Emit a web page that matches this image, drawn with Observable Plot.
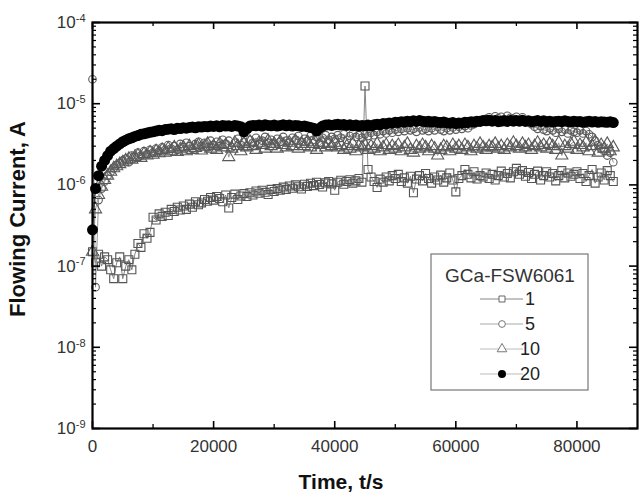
<!DOCTYPE html>
<html><head><meta charset="utf-8">
<script src="https://cdn.jsdelivr.net/npm/d3@7"></script>
<script src="https://cdn.jsdelivr.net/npm/@observablehq/plot@0.6"></script>
<style>body{margin:0;background:#fff}</style>
</head><body><div id="chart"></div>
<script>
// time in kiloseconds (x1000 s)
const timesKs = [0,0.5,1,1.5,2,2.5,3,3.5,4,4.5,
5,5.5,6,6.5,7,7.5,8,8.5,9,9.5,
10,10.5,11,11.5,12,12.5,13,13.5,14,14.5,
15,15.5,16,16.5,17,17.5,18,18.5,19,19.5,
20,20.5,21,21.5,22,22.5,23,23.5,24,24.5,
25,25.5,26,26.5,27,27.5,28,28.5,29,29.5,
30,30.5,31,31.5,32,32.5,33,33.5,34,34.5,
35,35.5,36,36.5,37,37.5,38,38.5,39,39.5,
40,40.5,41,41.5,42,42.5,43,43.5,44,44.5,
45,45.5,46,46.5,47,47.5,48,48.5,49,49.5,
50,50.5,51,51.5,52,52.5,53,53.5,54,54.5,
55,55.5,56,56.5,57,57.5,58,58.5,59,59.5,
60,60.5,61,61.5,62,62.5,63,63.5,64,64.5,
65,65.5,66,66.5,67,67.5,68,68.5,69,69.5,
70,70.5,71,71.5,72,72.5,73,73.5,74,74.5,
75,75.5,76,76.5,77,77.5,78,78.5,79,79.5,
80,80.5,81,81.5,82,82.5,83,83.5,84,84.5,
85,85.5,86];

// flowing current in microamperes (x1e-6 A)
const s1 = [0.15,0.11,0.14,0.10,0.13,0.12,0.09,0.07,0.11,0.13,
0.07,0.10,0.12,0.09,0.14,0.19,0.17,0.25,0.22,0.26,
0.40,0.37,0.44,0.41,0.46,0.42,0.50,0.47,0.53,0.49,
0.55,0.50,0.58,0.53,0.62,0.57,0.60,0.66,0.63,0.70,
0.65,0.72,0.68,0.62,0.75,0.52,0.70,0.77,0.66,0.73,
0.78,0.72,0.80,0.75,0.84,0.79,0.86,0.81,0.76,0.88,
0.83,0.90,0.86,0.94,0.88,0.97,0.91,1.00,0.95,0.89,
1.02,0.96,1.05,0.98,1.08,1.01,0.94,1.06,1.10,1.03,
0.86,1.08,1.14,1.02,1.10,1.16,1.05,1.12,1.20,1.08,
16.5,1.55,1.25,1.10,0.93,1.18,1.08,1.25,1.12,1.30,
1.20,1.35,1.10,1.22,1.05,1.28,0.80,1.18,1.30,1.12,
1.38,1.20,1.05,1.25,1.15,1.32,1.08,1.22,1.40,1.15,
0.82,1.20,1.30,1.55,1.35,1.22,1.45,1.18,1.30,1.25,
1.40,1.20,1.35,1.15,1.30,1.48,1.25,1.38,1.22,1.45,
1.60,1.35,1.50,1.28,1.42,1.20,1.35,1.48,1.15,1.30,
1.45,1.25,1.38,1.12,1.30,1.50,1.22,1.40,1.28,1.35,
1.45,1.20,1.38,1.10,1.30,1.55,1.05,1.25,1.40,1.15,
1.50,1.30,1.10];

const s5 = [20,0.055,0.65,0.9,1.1,1.3,1.45,1.6,1.75,1.85,
2.0,2.1,1.9,2.3,2.2,2.5,2.3,2.6,2.4,2.7,
2.5,2.8,2.6,2.9,2.7,3.1,2.8,3.0,2.7,3.2,
2.9,3.3,3.0,2.8,3.2,3.4,3.0,3.3,2.9,3.5,
3.1,3.4,3.0,3.6,3.2,3.5,2.9,3.3,3.7,3.1,
3.4,3.0,3.6,3.3,3.8,3.2,3.5,3.9,3.3,3.6,
3.2,3.7,3.4,3.9,3.5,3.3,3.8,3.6,4.0,3.4,
3.7,3.5,4.0,3.6,3.9,3.3,3.8,4.1,3.6,3.9,
3.7,4.1,3.8,4.2,3.6,4.0,4.3,3.9,4.1,3.8,
4.2,4.0,4.4,4.1,4.5,4.2,4.6,4.3,4.7,4.4,
4.8,4.5,4.9,4.6,5.0,4.7,4.9,4.5,5.1,4.7,
4.9,4.6,5.0,4.7,5.2,4.8,4.6,5.0,4.7,5.1,
4.8,5.2,4.9,5.3,5.0,5.4,5.6,5.9,6.3,6.0,
6.5,6.8,6.3,7.0,6.6,6.9,6.4,7.1,6.7,6.5,
6.9,6.3,6.8,6.2,6.0,5.6,5.2,4.9,5.3,4.8,
4.6,5.0,4.7,4.4,4.9,4.5,4.8,4.3,4.7,4.5,
4.4,4.7,4.3,4.6,4.2,3.9,3.5,3.1,2.8,2.6,
2.3,2.5,1.9];

const s10 = [0.15,0.5,0.75,0.95,1.15,1.3,1.45,1.6,1.7,1.8,
1.9,2.0,2.1,2.05,2.2,2.3,2.15,2.4,2.3,2.5,
2.35,2.6,2.45,2.7,2.5,2.8,2.6,2.9,2.55,2.75,
2.9,2.6,3.0,2.7,2.85,3.1,2.65,2.95,3.2,2.8,
3.0,2.7,3.2,2.9,3.1,2.2,2.8,3.3,3.0,2.6,
3.2,2.9,3.4,3.0,2.7,3.3,3.1,2.8,3.5,3.0,
3.2,2.8,3.4,3.1,2.9,3.3,3.0,3.5,2.8,3.2,
3.0,3.4,2.9,3.2,2.7,3.1,3.3,2.9,3.2,3.0,
3.3,2.9,3.1,2.7,3.0,2.8,3.2,2.6,3.0,2.9,
3.1,2.7,3.0,2.8,3.2,2.6,2.9,3.1,2.7,3.0,
2.8,3.1,2.6,2.9,3.2,2.7,2.5,3.0,2.8,3.1,
2.9,2.6,3.0,2.8,2.3,2.7,3.0,2.9,2.6,3.1,
2.8,3.0,2.7,3.1,2.9,2.6,3.0,2.8,3.2,2.9,
2.7,3.0,2.9,3.2,2.8,3.0,2.7,3.1,2.9,3.3,
3.0,2.8,3.2,2.9,3.1,2.7,3.0,3.3,2.9,3.1,
2.8,3.2,3.0,2.7,3.3,2.3,3.0,2.8,3.2,3.4,
2.7,3.1,2.9,3.3,2.6,3.0,3.4,2.5,3.1,2.8,
3.2,2.6,2.9];

const s20 = [0.28,0.9,1.3,1.7,2.0,2.3,2.6,2.8,3.0,3.2,
3.4,3.55,3.7,3.8,3.95,4.05,4.2,4.25,4.35,4.45,
4.5,4.6,4.7,4.65,4.8,4.85,4.9,4.8,5.0,4.95,
5.05,5.0,5.1,5.15,5.05,5.2,5.15,5.25,5.2,5.3,
5.25,5.35,5.2,5.4,5.3,5.35,5.25,5.4,5.3,5.2,
4.5,4.9,5.3,5.4,5.35,5.45,5.3,5.5,5.4,5.35,
5.45,5.3,5.4,5.5,5.35,5.45,5.3,5.4,5.35,5.25,
5.3,5.2,5.1,5.0,4.6,5.0,5.3,5.45,5.5,5.4,
5.5,5.6,5.45,5.55,5.4,5.5,5.35,5.45,5.3,5.4,
5.35,5.45,5.3,5.5,5.6,5.5,5.7,5.65,5.8,5.75,
5.9,5.85,6.0,5.95,6.1,6.0,6.15,6.05,6.2,6.1,
6.0,6.1,5.95,6.05,5.9,5.85,5.95,5.8,5.75,5.85,
5.7,5.8,5.75,5.9,5.85,6.0,5.95,6.1,6.05,6.2,
6.15,6.25,6.1,6.2,6.0,6.1,6.15,6.05,6.2,6.1,
6.2,6.1,6.25,6.05,6.15,6.0,6.1,6.2,6.05,6.15,
6.0,6.1,5.95,6.05,6.1,6.0,6.15,6.05,5.95,6.1,
6.0,6.05,5.9,6.0,6.1,5.95,6.05,5.9,6.0,5.95,
5.9,6.0,5.85];

const seriesNames = ["1","5","10","20"];
const legendTitle = "GCa-FSW6061";
const xTicks = [0,20000,40000,60000,80000];
const xMinorTicks = [10000,30000,50000,70000];
const yTicks = [1e-9,1e-8,1e-7,1e-6,1e-5,1e-4];
const yMinorTicks = [];
for (const d of yTicks.slice(0,-1)) for (let m = 2; m <= 9; m++) yMinorTicks.push(m*d);

const rows = (s) => timesKs.map((t,i) => ({t: t*1000, v: s[i]*1e-6}));
const r1 = rows(s1), r5 = rows(s5), r10 = rows(s10), r20 = rows(s20);

const ink = "#000";
const plot = Plot.plot({
  width: 640, height: 495,
  marginLeft: 92, marginRight: 3, marginTop: 22, marginBottom: 67,
  style: {fontFamily: "'Liberation Sans', Arial, sans-serif", fontSize: "17px", background: "white", color: "#333"},
  x: {domain: [0, 90000], axis: null},
  y: {type: "log", domain: [1e-9, 1e-4], axis: null},
  marks: [
    Plot.line(r1, {x: "t", y: "v", stroke: "#777", strokeWidth: 0.9}),
    Plot.dot(r1, {x: "t", y: "v", symbol: "square", r: 4.5, stroke: "#555", fill: "none", strokeWidth: 1.1}),
    Plot.line(r5, {x: "t", y: "v", stroke: "#888", strokeWidth: 0.9}),
    Plot.dot(r5, {x: "t", y: "v", symbol: "circle", r: 3.8, stroke: "#5a5a5a", fill: "none", strokeWidth: 1.1}),
    Plot.line(r10, {x: "t", y: "v", stroke: "#888", strokeWidth: 0.9}),
    Plot.dot(r10, {x: "t", y: "v", symbol: "triangle", r: 4.5, stroke: "#5a5a5a", fill: "none", strokeWidth: 1.1}),
    Plot.line(r20, {x: "t", y: "v", stroke: "#333", strokeWidth: 1}),
    Plot.dot(r20, {x: "t", y: "v", symbol: "circle", r: 5.5, fill: "#000", stroke: "none"}),
    Plot.frame({stroke: ink, strokeWidth: 2.2}),
    // inward ticks
    Plot.ruleX(xTicks, {x: d => d, y1: 1e-9, y2: 1e-9, insetTop: -7, insetBottom: 0, stroke: ink, strokeWidth: 1.6}),
    Plot.ruleX(xTicks, {x: d => d, y1: 1e-4, y2: 1e-4, insetTop: 0, insetBottom: -7, stroke: ink, strokeWidth: 1.6}),
    Plot.ruleX(xMinorTicks, {x: d => d, y1: 1e-9, y2: 1e-9, insetTop: -4, insetBottom: 0, stroke: ink, strokeWidth: 1.3}),
    Plot.ruleX(xMinorTicks, {x: d => d, y1: 1e-4, y2: 1e-4, insetTop: 0, insetBottom: -4, stroke: ink, strokeWidth: 1.3}),
    Plot.ruleY(yTicks, {y: d => d, x1: 0, x2: 0, insetLeft: 0, insetRight: -8, stroke: ink, strokeWidth: 1.6}),
    Plot.ruleY(yTicks, {y: d => d, x1: 90000, x2: 90000, insetLeft: -8, insetRight: 0, stroke: ink, strokeWidth: 1.6}),
    Plot.ruleY(yMinorTicks, {y: d => d, x1: 0, x2: 0, insetLeft: 0, insetRight: -4, stroke: ink, strokeWidth: 1.2}),
    Plot.ruleY(yMinorTicks, {y: d => d, x1: 90000, x2: 90000, insetLeft: -4, insetRight: 0, stroke: ink, strokeWidth: 1.2}),
    Plot.axisX(xTicks, {label: null, tickSize: 0, tickPadding: 11, fontSize: 17, fill: "#333", tickFormat: d => String(d)}),
    Plot.axisY(yTicks, {label: null, tickSize: 0, tickPadding: 7, fontSize: 17, fill: "#333", tickFormat: d => "10^" + Math.round(Math.log10(d))})
  ]
});
document.getElementById("chart").appendChild(plot);

const svg = d3.select(plot);
// superscript exponents
svg.selectAll("text").each(function() {
  const t = this.textContent;
  if (t.includes("^")) {
    const [b, e] = t.split("^");
    this.textContent = b;
    d3.select(this).append("tspan").attr("dy", "-0.55em").attr("font-size", "11px").text(e);
  }
});

// axis titles
svg.append("text").attr("transform", "translate(25,219) rotate(-90)")
  .attr("text-anchor", "middle").attr("font-size", "22px").attr("font-weight", "bold").attr("fill", "#111")
  .text("Flowing Current, A");
svg.append("text").attr("x", 341).attr("y", 489)
  .attr("text-anchor", "middle").attr("font-size", "21px").attr("font-weight", "bold").attr("fill", "#111")
  .text("Time, t/s");

// legend
const lg = svg.append("g");
lg.append("rect").attr("x", 431).attr("y", 254).attr("width", 157).attr("height", 136)
  .attr("fill", "white").attr("stroke", "#777").attr("stroke-width", 1.2);
lg.append("text").attr("x", 510).attr("y", 282).attr("text-anchor", "middle")
  .attr("font-size", "19px").attr("fill", "#333").text(legendTitle);
const syms = [
  {sym: d3.symbolSquare, size: 36, fill: "white", stroke: "#666", line: "#888"},
  {sym: d3.symbolCircle, size: 36, fill: "white", stroke: "#777", line: "#aaa"},
  {sym: d3.symbolTriangle, size: 40, fill: "white", stroke: "#777", line: "#bbb"},
  {sym: d3.symbolCircle, size: 50, fill: "#000", stroke: "none", line: "#bbb"}
];
seriesNames.forEach((name, i) => {
  const cy = 299 + i * 25;
  lg.append("line").attr("x1", 480).attr("x2", 523).attr("y1", cy).attr("y2", cy)
    .attr("stroke", syms[i].line).attr("stroke-width", 1.2);
  lg.append("path").attr("d", d3.symbol(syms[i].sym, syms[i].size)())
    .attr("transform", `translate(502,${cy})`).attr("fill", syms[i].fill)
    .attr("stroke", syms[i].stroke).attr("stroke-width", 1);
  lg.append("text").attr("x", 530).attr("y", cy).attr("dy", "0.36em")
    .attr("font-size", "18px").attr("fill", "#222").text(name);
});
</script>
</body></html>
